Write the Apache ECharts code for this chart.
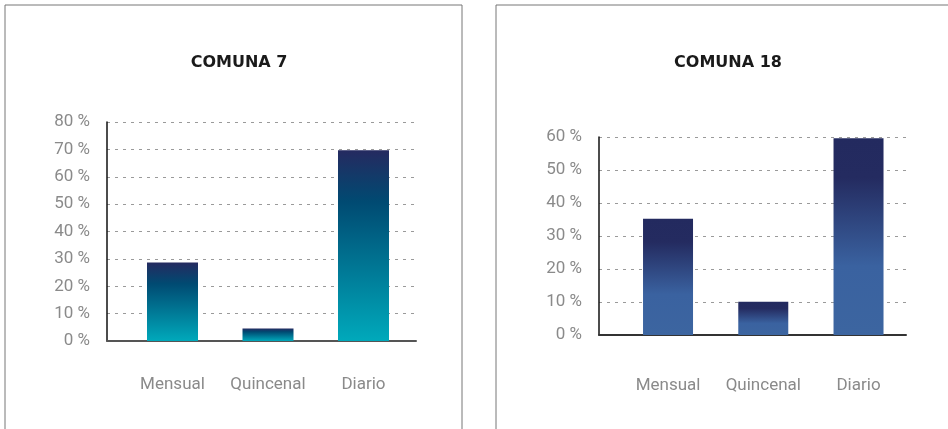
<!DOCTYPE html>
<html>
<head>
<meta charset="utf-8">
<script src="https://cdn.jsdelivr.net/npm/echarts@6/dist/echarts.min.js"></script>
<style>
  html, body { margin: 0; padding: 0; background: #fff; }
  #main { width: 948px; height: 429px; }
</style>
</head>
<body>
<div id="main"></div>
<script>
var categories = ['Mensual', 'Quincenal', 'Diario'];
var comuna7Values = [28.7, 4.6, 69.7];
var comuna18Values = [35.2, 10.1, 59.6];
var comuna7Ticks = { min: 0, max: 80, interval: 10 };
var comuna18Ticks = { min: 0, max: 60, interval: 10 };

var labelFont = 'Roboto, "DejaVu Sans", sans-serif';

function barGradient(stops) {
	return new echarts.graphic.LinearGradient(0, 0, 0, 1, stops);
}

// eje y con etiquetas y lineas punteadas
function frameY(idx, ticks) {
	return {
		gridIndex: idx,
		type: 'value',
		min: ticks.min,
		max: ticks.max,
		interval: ticks.interval,
		axisLine: { show: true, lineStyle: { color: '#111', width: 1.5 } },
		axisTick: { show: false },
		axisLabel: {
			color: '#8a8a8a',
			fontSize: 17,
			fontFamily: labelFont,
			margin: 17,
			formatter: function(v) { return v + ' %'; }
		},
		splitLine: { show: true, lineStyle: { color: '#9a9a9a', type: [3, 5], width: 1 } }
	};
}

function hiddenY(idx, ticks) {
	return {
		gridIndex: idx,
		type: 'value',
		min: ticks.min,
		max: ticks.max,
		show: false
	};
}

function frameX(idx, color) {
	return {
		gridIndex: idx,
		type: 'value',
		min: 0,
		max: 1,
		axisLine: { show: true, onZero: false, lineStyle: { color: color, width: 2 } },
		axisTick: { show: false },
		axisLabel: { show: false },
		splitLine: { show: false }
	};
}

function catX(idx, margin) {
	return {
		gridIndex: idx,
		type: 'category',
		data: categories,
		axisLine: { show: false },
		axisTick: { show: false },
		axisLabel: { color: '#8a8a8a', fontSize: 17, fontFamily: labelFont, margin: margin, interval: 0 }
	};
}

var titleStyle = { color: '#1a1a1a', fontSize: 16, fontWeight: 'bold', fontFamily: '"DejaVu Sans", sans-serif' };

var myChart = echarts.init(document.getElementById('main'));
var option = {
	animation: false,
	title: [
		{ text: 'COMUNA 7', left: 234, top: 50, textAlign: 'center', textStyle: titleStyle },
		{ text: 'COMUNA 18', left: 723, top: 50, textAlign: 'center', textStyle: titleStyle }
	],
	graphic: [
		{ type: 'rect', shape: { x: 5, y: 5, width: 457, height: 440 }, style: { fill: 'none', stroke: '#777', lineWidth: 1 } },
		{ type: 'rect', shape: { x: 496, y: 5, width: 470, height: 440 }, style: { fill: 'none', stroke: '#777', lineWidth: 1 } }
	],
	grid: [
		{ left: 107, top: 122, width: 309, height: 219 },
		{ left: 124.75, top: 122, width: 286.5, height: 219 },
		{ left: 599, top: 137, width: 307, height: 198 },
		{ left: 620.4, top: 137, width: 285.75, height: 198 }
	],
	xAxis: [
		frameX(0, '#555'),
		catX(1, 35),
		frameX(2, '#333'),
		catX(3, 42)
	],
	yAxis: [
		frameY(0, comuna7Ticks),
		hiddenY(1, comuna7Ticks),
		frameY(2, comuna18Ticks),
		hiddenY(3, comuna18Ticks)
	],
	series: [
		{
			name: 'Comuna 7',
			type: 'bar',
			xAxisIndex: 1,
			yAxisIndex: 1,
			barWidth: 51,
			data: comuna7Values,
			itemStyle: {
				color: barGradient([
					{ offset: 0, color: '#252a60' },
					{ offset: 0.27, color: '#004a72' },
					{ offset: 1, color: '#00a9bb' }
				])
			}
		},
		{
			name: 'Comuna 18',
			type: 'bar',
			xAxisIndex: 3,
			yAxisIndex: 3,
			barWidth: 50,
			data: comuna18Values,
			itemStyle: {
				color: barGradient([
					{ offset: 0, color: '#232a5f' },
					{ offset: 0.2, color: '#242b60' },
					{ offset: 0.65, color: '#3a62a0' },
					{ offset: 1, color: '#3c65a0' }
				])
			}
		}
	]
};
myChart.setOption(option);
</script>
</body>
</html>
